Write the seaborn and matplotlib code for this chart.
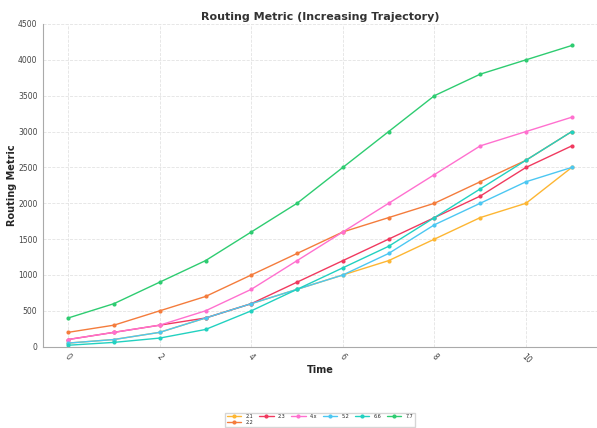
import numpy as np
import pandas as pd
import matplotlib
matplotlib.use("Agg")
import matplotlib.pyplot as plt
import seaborn as sns

time = list(range(12))
series_names = ["2.1", "2.2", "2.3", "4.x", "5.2", "6.6", "7.7"]
s21 = [50, 100, 200, 400, 600, 800, 1000, 1200, 1500, 1800, 2000, 2500]
s22 = [200, 300, 500, 700, 1000, 1300, 1600, 1800, 2000, 2300, 2600, 3000]
s23 = [100, 200, 300, 400, 600, 900, 1200, 1500, 1800, 2100, 2500, 2800]
s4x = [100, 200, 300, 500, 800, 1200, 1600, 2000, 2400, 2800, 3000, 3200]
s52 = [50, 100, 200, 400, 600, 800, 1000, 1300, 1700, 2000, 2300, 2500]
s66 = [20, 60, 120, 240, 500, 800, 1100, 1400, 1800, 2200, 2600, 3000]
s77 = [400, 600, 900, 1200, 1600, 2000, 2500, 3000, 3500, 3800, 4000, 4200]
colors = ["#FDB633", "#F47C3C", "#F03A5F", "#FF70CF", "#4CC7F2", "#22D1C0", "#2ECC71"]

values = [s21, s22, s23, s4x, s52, s66, s77]
df = pd.concat([pd.DataFrame({"Time": time, "Routing Metric": v, "Series": n})
                for n, v in zip(series_names, values)], ignore_index=True)

sns.set_theme(style="white")
plt.rcParams['font.family'] = ['DejaVu Sans']

fig, ax = plt.subplots(figsize=(5.97, 4.28), dpi=100)
fig.subplots_adjust(left=0.072, right=1.0, top=0.944, bottom=0.19)

sns.lineplot(data=df, x="Time", y="Routing Metric", hue="Series",
             palette=dict(zip(series_names, colors)), marker="o",
             markersize=3, markeredgewidth=0, linewidth=1.0, ax=ax)

ax.set_ylim(0, 4500)
ax.set_yticks(np.arange(0, 4501, 500))
ax.set_xticks([0, 2, 4, 6, 8, 10])
ax.tick_params(axis='both', labelsize=5.5, colors='#444444', length=2, pad=2)
for lbl in ax.get_xticklabels():
    lbl.set_rotation(-45)
    lbl.set_ha('center')
ax.grid(True, linestyle='--', color='#e3e3e3', linewidth=0.6)
for s in ["top", "right"]:
    ax.spines[s].set_visible(False)
for s in ["left", "bottom"]:
    ax.spines[s].set_color('#aaaaaa')
    ax.spines[s].set_linewidth(0.8)

ax.set_title("Routing Metric (Increasing Trajectory)", fontsize=8, fontweight='bold', color='#333333', pad=3)
ax.set_xlabel("Time", fontsize=7, fontweight='bold', labelpad=0)
ax.set_ylabel("Routing Metric", fontsize=7, fontweight='bold', labelpad=1)

handles, labels = ax.get_legend_handles_labels()
ax.legend(handles, labels, loc='upper center', bbox_to_anchor=(0.50, -0.197), ncol=6,
          fontsize=3.5, frameon=True, fancybox=False, edgecolor='#cccccc',
          handlelength=3, columnspacing=1.2, borderpad=0.3, labelspacing=0.2,
          handletextpad=0.8)

fig.savefig("out.png", dpi=100)
